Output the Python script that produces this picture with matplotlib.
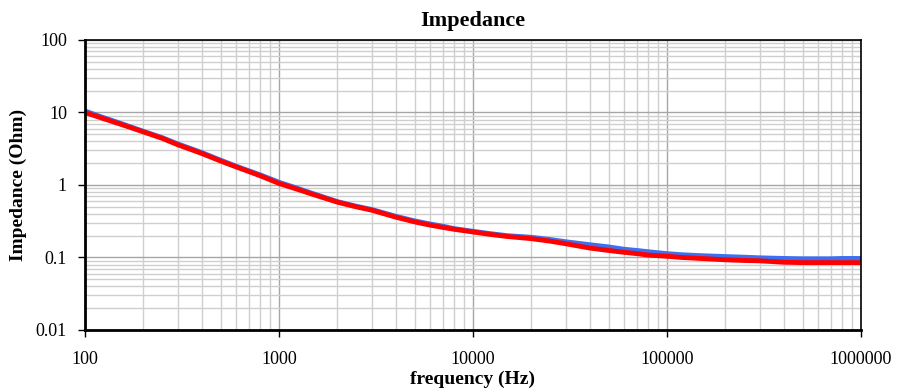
import matplotlib
matplotlib.use("Agg")
import matplotlib.pyplot as plt
from matplotlib.ticker import FixedLocator, FixedFormatter, LogLocator, NullFormatter

freq = [100, 120, 150, 200, 250, 300, 400, 500, 600, 700, 800, 900, 1000, 1200, 1500,
        2000, 2500, 3000, 4000, 5000, 6000, 7000, 8000, 10000, 12000, 15000, 20000,
        25000, 30000, 40000, 50000, 60000, 70000, 80000, 100000, 120000, 150000,
        200000, 250000, 300000, 400000, 500000, 600000, 700000, 800000, 1000000]

z_blue = [10.5, 8.8, 7.2, 5.5, 4.5, 3.7, 2.8, 2.2, 1.82, 1.57, 1.38, 1.22, 1.09, 0.93, 0.76,
          0.59, 0.51, 0.46, 0.37, 0.32, 0.29, 0.27, 0.25, 0.23, 0.215, 0.2, 0.19,
          0.177, 0.165, 0.15, 0.14, 0.13, 0.125, 0.12, 0.113, 0.109, 0.106,
          0.103, 0.101, 0.099, 0.097, 0.096, 0.096, 0.096, 0.097, 0.097]

z_red = [10.0, 8.5, 7.0, 5.4, 4.4, 3.6, 2.72, 2.14, 1.78, 1.53, 1.34, 1.18, 1.05, 0.9, 0.74,
         0.58, 0.50, 0.45, 0.36, 0.31, 0.28, 0.26, 0.245, 0.225, 0.21, 0.195, 0.182,
         0.168, 0.155, 0.135, 0.125, 0.118, 0.113, 0.108, 0.104, 0.1, 0.097,
         0.093, 0.091, 0.090, 0.086, 0.085, 0.085, 0.085, 0.085, 0.085]

x_ticks = [100, 1000, 10000, 100000, 1000000]
x_labels = ["100", "1000", "10000", "100000", "1000000"]
y_ticks = [0.01, 0.1, 1, 10, 100]
y_labels = ["0.01", "0.1", "1", "10", "100"]

plt.rcParams['font.family'] = ['Liberation Serif', 'DejaVu Serif']

fig = plt.figure(figsize=(9.03, 3.89), dpi=100)
ax = fig.add_axes([85/903, 1-330/389, (861-85)/903, (330-40)/389])

ax.set_xscale('log')
ax.set_yscale('log')
ax.set_xlim(100, 1000000)
ax.set_ylim(0.01, 100)

ax.xaxis.set_major_locator(FixedLocator(x_ticks))
ax.xaxis.set_major_formatter(FixedFormatter(x_labels))
ax.yaxis.set_major_locator(FixedLocator(y_ticks))
ax.yaxis.set_major_formatter(FixedFormatter(y_labels))
ax.xaxis.set_minor_locator(LogLocator(base=10, subs=range(2, 10)))
ax.yaxis.set_minor_locator(LogLocator(base=10, subs=range(2, 10)))
ax.xaxis.set_minor_formatter(NullFormatter())
ax.yaxis.set_minor_formatter(NullFormatter())

ax.grid(which='major', color='#a6a6a6', linewidth=1.0)
ax.grid(which='minor', color='#cfcfcf', linewidth=1.0)
ax.set_axisbelow(True)

ax.plot(freq, z_blue, color='#3f6ff0', linewidth=3.5, solid_capstyle='butt')
ax.plot(freq, z_red, color='#ff0000', linewidth=3.5, solid_capstyle='butt')

ax.tick_params(which='major', direction='out', length=5, width=1, labelsize=13, pad=10)
ax.tick_params(axis='y', which='major', pad=8)
ax.tick_params(which='minor', length=0)

for s in ['left', 'bottom']:
    ax.spines[s].set_linewidth(2)
for s in ['top', 'right']:
    ax.spines[s].set_linewidth(1.2)

ax.set_title("Impedance", fontsize=16, fontweight='bold', pad=10)
ax.set_xlabel("frequency (Hz)", fontsize=14, fontweight='bold', labelpad=2)
ax.set_ylabel("Impedance (Ohm)", fontsize=14, fontweight='bold', labelpad=6)

fig.savefig("out.png", dpi=100)
